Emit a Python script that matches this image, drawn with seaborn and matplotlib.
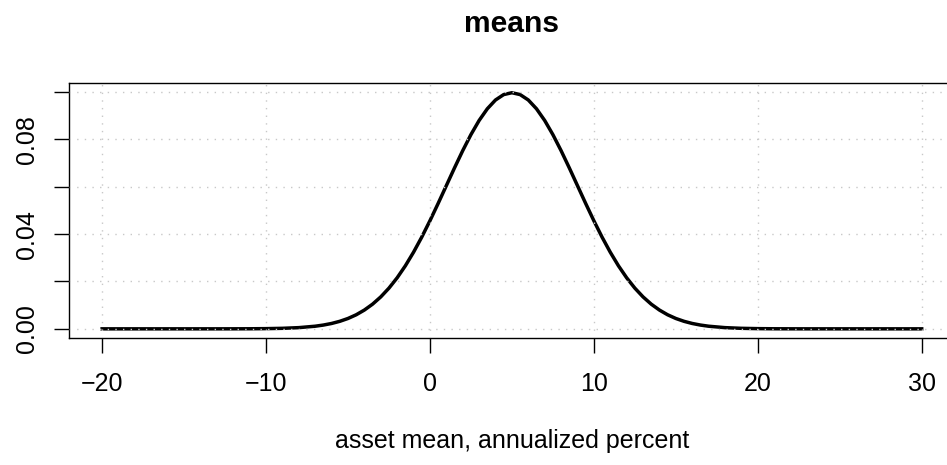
import matplotlib
matplotlib.use("Agg")
import matplotlib.pyplot as plt
import seaborn as sns
import pandas as pd

# Values (density curve of asset means)
x_vals = [-20, -19, -18, -17, -16, -15, -14, -13, -12, -11, -10, -9, -8, -7,
          -6.5, -6, -5.5, -5, -4.5, -4, -3.5, -3, -2.5, -2, -1.5, -1, -0.5,
          0, 0.5, 1, 1.5, 2, 2.5, 3, 3.5, 4, 4.5, 5, 5.5, 6, 6.5, 7, 7.5, 8,
          8.5, 9, 9.5, 10, 10.5, 11, 11.5, 12, 12.5, 13, 13.5, 14, 14.5, 15,
          15.5, 16, 16.5,
          17, 18, 19, 20, 21, 22, 23, 24, 25, 26, 27, 28, 29, 30]
y_vals = [0, 0, 0, 0, 0, 0, 0, 0, 0.00001, 0.00003, 0.00009, 0.00022, 0.00051, 0.00111,
          0.00160, 0.00227, 0.00318, 0.00438, 0.00594, 0.00794, 0.01043, 0.01350,
          0.01720, 0.02157, 0.02663, 0.03238, 0.03875, 0.04566, 0.05297, 0.06049,
          0.06801, 0.07528, 0.08204, 0.08802, 0.09296, 0.09667, 0.09896, 0.09974,
          0.09896, 0.09667, 0.09296, 0.08802, 0.08204, 0.07528, 0.06801, 0.06049,
          0.05297, 0.04566, 0.03875, 0.03238, 0.02663, 0.02157, 0.01720, 0.01350,
          0.01043, 0.00794, 0.00594, 0.00438, 0.00318, 0.00227, 0.00160,
          0.00111, 0.00051, 0.00022, 0.00009, 0.00003, 0.00001, 0, 0, 0, 0, 0, 0, 0, 0]

x_ticks = [-20, -10, 0, 10, 20, 30]
y_ticks = [0.00, 0.02, 0.04, 0.06, 0.08, 0.10]
y_tick_labels = ["0.00", "", "0.04", "", "0.08", ""]

title = "means"
x_label = "asset mean, annualized percent"

plt.rcParams["font.family"] = ["Liberation Sans", "DejaVu Sans"]

df = pd.DataFrame({"x": x_vals, "y": y_vals})

fig = plt.figure(figsize=(9.47, 4.65), dpi=100)
ax = fig.add_axes([0.0732, 0.2725, 0.9347, 0.5484])

sns.lineplot(data=df, x="x", y="y", ax=ax, color="black", linewidth=2.5,
             estimator=None, sort=False)

ax.set_xlim(-22, 32)
ax.set_ylim(-0.00399, 0.10373)

ax.set_xticks(x_ticks)
ax.set_xticklabels([f"{v:d}".replace("-", "\u2212") for v in x_ticks])
ax.set_yticks(y_ticks)
ax.set_yticklabels(y_tick_labels)
for lab in ax.get_yticklabels():
    lab.set_rotation(90)
    lab.set_va("center")

ax.tick_params(axis="both", direction="out", length=11, width=1.0,
               labelsize=18, color="black")
ax.tick_params(axis="x", pad=13)
ax.tick_params(axis="y", pad=11)

for sp in ax.spines.values():
    sp.set_visible(True)
    sp.set_linewidth(1.0)
    sp.set_color("black")

ax.set_axisbelow(False)
ax.grid(True, color="#c8c8c8", linewidth=1.0, linestyle=(0, (1, 4.5)))

ax.set_xlabel(x_label, fontsize=18, labelpad=24)
ax.set_ylabel("")
ax.set_title(title, fontsize=21.6, fontweight="bold", pad=37)

fig.savefig("out.png", dpi=100)
